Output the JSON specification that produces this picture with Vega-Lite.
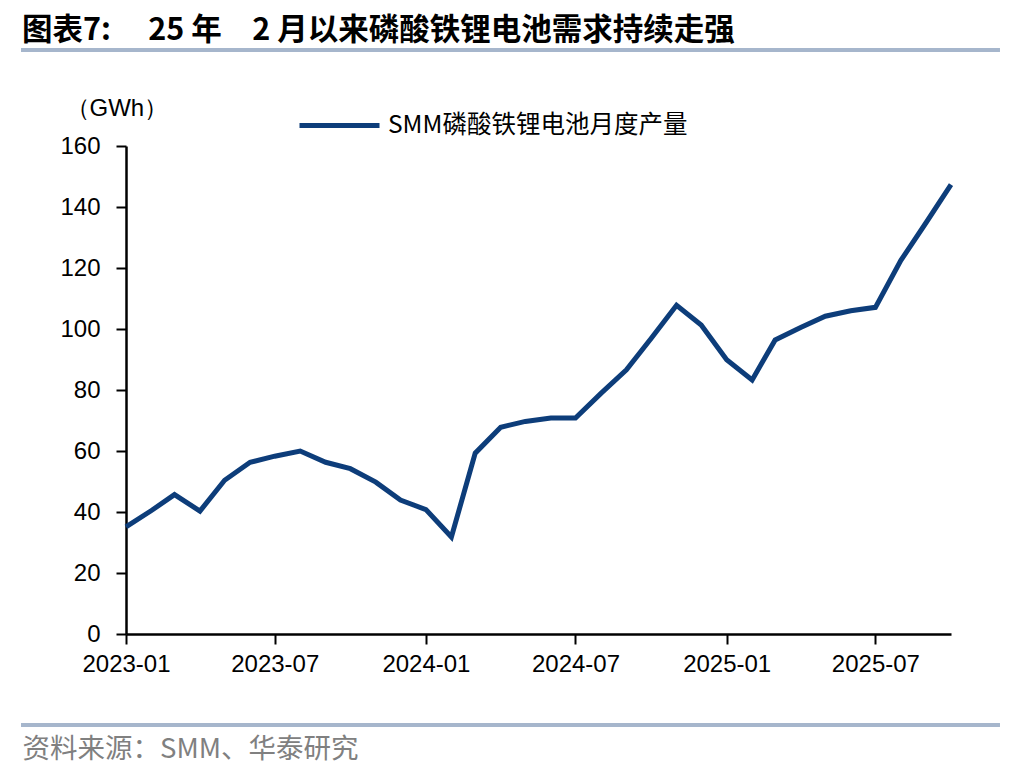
{
  "$schema": "https://vega.github.io/schema/vega-lite/v6.json",
  "width": 825,
  "height": 488,
  "autosize": {"type": "none"},
  "padding": {"left": 126, "top": 146, "right": 73, "bottom": 139},
  "background": "white",
  "config": {
    "view": {"stroke": null},
    "axis": {
      "domainColor": "black",
      "domainWidth": 2.5,
      "tickColor": "black",
      "tickWidth": 2,
      "tickSize": 10,
      "grid": false,
      "labelFont": "Liberation Sans",
      "labelFontSize": 24,
      "labelColor": "black"
    }
  },
  "title": {
    "text": "图表7:　  25 年　2 月以来磷酸铁锂电池需求持续走强",
    "anchor": "start",
    "frame": "group",
    "dx": -104,
    "font": "Noto Sans CJK SC",
    "fontSize": 30.5,
    "fontWeight": "bold",
    "color": "black",
    "offset": 2
  },
  "data": {
    "values": [
      {"month": "2023-01-01", "output": 35.1},
      {"month": "2023-02-01", "output": 40.5},
      {"month": "2023-03-01", "output": 45.7},
      {"month": "2023-04-01", "output": 40.3},
      {"month": "2023-05-01", "output": 50.4},
      {"month": "2023-06-01", "output": 56.3},
      {"month": "2023-07-01", "output": 58.3},
      {"month": "2023-08-01", "output": 60.0},
      {"month": "2023-09-01", "output": 56.3},
      {"month": "2023-10-01", "output": 54.2},
      {"month": "2023-11-01", "output": 49.8},
      {"month": "2023-12-01", "output": 43.9},
      {"month": "2024-01-01", "output": 40.8},
      {"month": "2024-02-01", "output": 31.8},
      {"month": "2024-03-01", "output": 59.3},
      {"month": "2024-04-01", "output": 67.8},
      {"month": "2024-05-01", "output": 69.7},
      {"month": "2024-06-01", "output": 70.8},
      {"month": "2024-07-01", "output": 70.8},
      {"month": "2024-08-01", "output": 78.9},
      {"month": "2024-09-01", "output": 86.6},
      {"month": "2024-10-01", "output": 96.9},
      {"month": "2024-11-01", "output": 107.8},
      {"month": "2024-12-01", "output": 101.3},
      {"month": "2025-01-01", "output": 89.9},
      {"month": "2025-02-01", "output": 83.3},
      {"month": "2025-03-01", "output": 96.4},
      {"month": "2025-04-01", "output": 100.5},
      {"month": "2025-05-01", "output": 104.2},
      {"month": "2025-06-01", "output": 106.0},
      {"month": "2025-07-01", "output": 107.1},
      {"month": "2025-08-01", "output": 122.5},
      {"month": "2025-09-01", "output": 135.0},
      {"month": "2025-10-01", "output": 147.3}
    ]
  },
  "layer": [
    {
      "mark": {"type": "line", "strokeWidth": 5, "clip": false},
      "encoding": {
        "x": {
          "field": "month",
          "type": "temporal",
          "scale": {
            "type": "utc",
            "nice": false,
            "domain": [
              {"year": 2023, "month": 1, "date": 1, "utc": true},
              {"year": 2025, "month": 10, "date": 1, "utc": true}
            ]
          },
          "axis": {
            "values": [
              {"year": 2023, "month": 1, "date": 1, "utc": true},
              {"year": 2023, "month": 7, "date": 1, "utc": true},
              {"year": 2024, "month": 1, "date": 1, "utc": true},
              {"year": 2024, "month": 7, "date": 1, "utc": true},
              {"year": 2025, "month": 1, "date": 1, "utc": true},
              {"year": 2025, "month": 7, "date": 1, "utc": true}
            ],
            "format": "%Y-%m",
            "labelFlush": false,
            "labelPadding": 8,
            "title": "资料来源：SMM、华泰研究",
            "titleFont": "Noto Sans CJK SC",
            "titleFontSize": 27.5,
            "titleFontWeight": "normal",
            "titleColor": "#808080",
            "titleAnchor": "start",
            "titleAlign": "left",
            "titleBaseline": "middle",
            "titleX": -104,
            "titleY": 115
          }
        },
        "y": {
          "field": "output",
          "type": "quantitative",
          "scale": {"domain": [0, 160], "nice": false},
          "axis": {
            "values": [0, 20, 40, 60, 80, 100, 120, 140, 160],
            "labelPadding": 16,
            "title": "（GWh）",
            "titleFont": "Liberation Sans",
            "titleFontSize": 24,
            "titleFontWeight": "normal",
            "titleColor": "black",
            "titleAngle": 0,
            "titleAlign": "left",
            "titleBaseline": "middle",
            "titleX": -61,
            "titleY": -38
          }
        },
        "color": {
          "datum": "SMM磷酸铁锂电池月度产量",
          "type": "nominal",
          "scale": {"range": ["#0d3d7a"]},
          "legend": {
            "title": null,
            "orient": "none",
            "legendX": 171,
            "legendY": -63,
            "padding": 0,
            "symbolType": "stroke",
            "symbolSize": 6400,
            "symbolStrokeWidth": 5,
            "labelFont": "Noto Sans CJK SC",
            "labelFontSize": 24.5,
            "labelColor": "black",
            "labelLimit": 0,
            "labelOffset": 6
          }
        }
      }
    },
    {
      "mark": {"type": "rule", "color": "#a6b6cc", "strokeWidth": 3, "clip": false},
      "encoding": {
        "x": {"datum": {"year": 2022, "month": 8, "date": 27, "utc": true}, "type": "temporal"},
        "x2": {"datum": {"year": 2025, "month": 11, "date": 29, "utc": true}},
        "y": {"datum": 191.5, "type": "quantitative"}
      }
    },
    {
      "mark": {"type": "rule", "color": "#a6b6cc", "strokeWidth": 3, "clip": false},
      "encoding": {
        "x": {"datum": {"year": 2022, "month": 8, "date": 27, "utc": true}, "type": "temporal"},
        "x2": {"datum": {"year": 2025, "month": 11, "date": 29, "utc": true}},
        "y": {"datum": -29.8, "type": "quantitative"}
      }
    }
  ]
}
